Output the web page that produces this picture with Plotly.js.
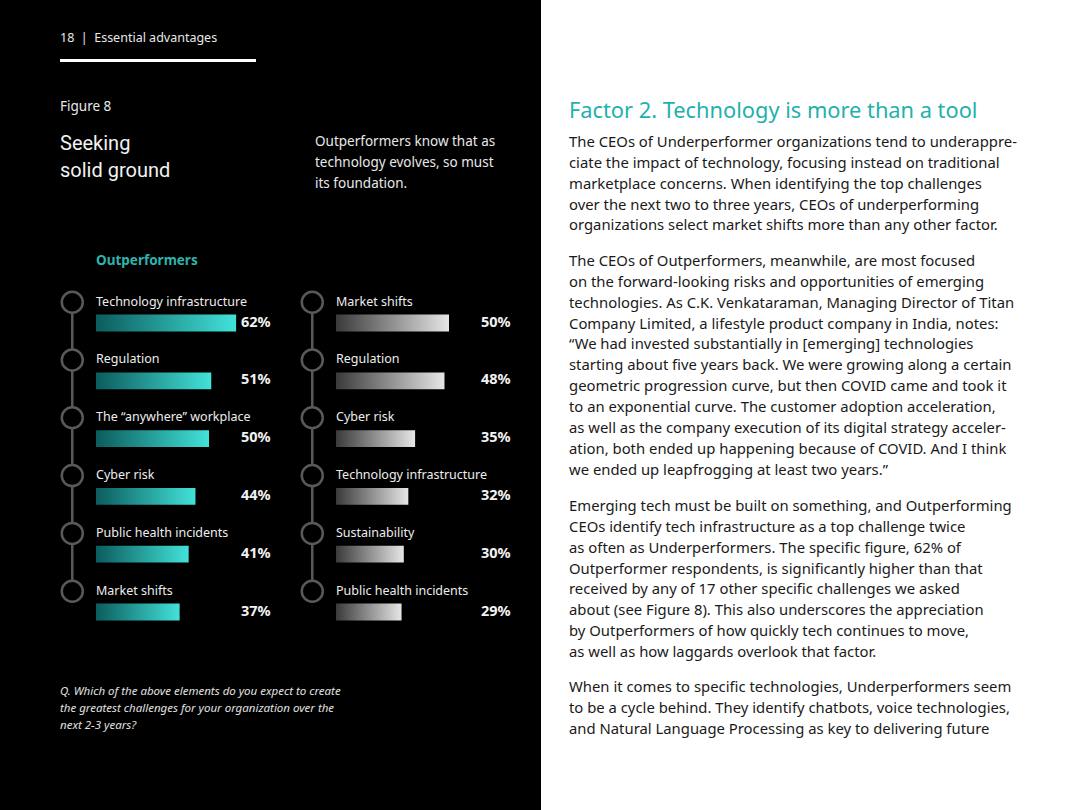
<!DOCTYPE html>
<html>
<head>
<meta charset="utf-8">
<script src="https://cdn.plot.ly/plotly-3.0.1.min.js"></script>
<style>
  html, body { margin: 0; padding: 0; background: #ffffff; }
  #chart { width: 1080px; height: 810px; }
</style>
</head>
<body>
<div id="chart"></div>
<script>
// ---------------- data ----------------
const leftLabels = ["Technology infrastructure", "Regulation", "The \u201Canywhere\u201D workplace", "Cyber risk", "Public health incidents", "Market shifts"];
const leftValues = [62, 51, 50, 44, 41, 37];
const rightLabels = ["Market shifts", "Regulation", "Cyber risk", "Technology infrastructure", "Sustainability", "Public health incidents"];
const rightValues = [50, 48, 35, 32, 30, 29];
const groupTitle = "Outperformers";

const para1 = [
  "The CEOs of Underperformer organizations tend to underappre-",
  "ciate the impact of technology, focusing instead on traditional",
  "marketplace concerns. When identifying the top challenges",
  "over the next two to three years, CEOs of underperforming",
  "organizations select market shifts more than any other factor."
];
const para2 = [
  "The CEOs of Outperformers, meanwhile, are most focused",
  "on the forward-looking risks and opportunities of emerging",
  "technologies. As C.K. Venkataraman, Managing Director of Titan",
  "Company Limited, a lifestyle product company in India, notes:",
  "\u201CWe had invested substantially in [emerging] technologies",
  "starting about five years back. We were growing along a certain",
  "geometric progression curve, but then COVID came and took it",
  "to an exponential curve. The customer adoption acceleration,",
  "as well as the company execution of its digital strategy acceler-",
  "ation, both ended up happening because of COVID. And I think",
  "we ended up leapfrogging at least two years.\u201D"
];
const para3 = [
  "Emerging tech must be built on something, and Outperforming",
  "CEOs identify tech infrastructure as a top challenge twice",
  "as often as Underperformers. The specific figure, 62% of",
  "Outperformer respondents, is significantly higher than that",
  "received by any of 17 other specific challenges we asked",
  "about (see Figure 8). This also underscores the appreciation",
  "by Outperformers of how quickly tech continues to move,",
  "as well as how laggards overlook that factor."
];
const para4 = [
  "When it comes to specific technologies, Underperformers seem",
  "to be a cycle behind. They identify chatbots, voice technologies,",
  "and Natural Language Processing as key to delivering future"
];

// ---------------- helpers ----------------
const W = 1080, H = 810;
const px = v => v / W;
const py = v => 1 - v / H;
const FONT = "'Noto Sans', 'Open Sans', sans-serif";
const FONT_LIGHT = "Roboto, 'Noto Sans', sans-serif";
const idx = leftValues.map((_, i) => i);

// timeline circles (offset above each bar row)
const circleX = -10.5;
const circleOffset = -0.36;

const traces = [
  {
    type: "bar", orientation: "h",
    x: leftValues, y: idx, base: 0, width: 0.29,
    marker: { color: "#2a9e9a", line: { width: 0 } },
    xaxis: "x", yaxis: "y", hoverinfo: "skip"
  },
  {
    type: "bar", orientation: "h",
    x: rightValues, y: idx, base: 0, width: 0.29,
    marker: { color: "#9a9a9a", line: { width: 0 } },
    xaxis: "x2", yaxis: "y2", hoverinfo: "skip"
  },
  {
    type: "scatter", mode: "lines+markers",
    x: idx.map(() => circleX), y: idx.map(i => i + circleOffset),
    line: { color: "#595959", width: 2.5 },
    marker: { size: 21, color: "#000000", line: { color: "#595959", width: 2.5 } },
    xaxis: "x", yaxis: "y", hoverinfo: "skip", cliponaxis: false
  },
  {
    type: "scatter", mode: "lines+markers",
    x: idx.map(() => circleX), y: idx.map(i => i + circleOffset),
    line: { color: "#595959", width: 2.5 },
    marker: { size: 21, color: "#000000", line: { color: "#595959", width: 2.5 } },
    xaxis: "x2", yaxis: "y2", hoverinfo: "skip", cliponaxis: false
  }
];

const annotations = [];
const baseAnn = { showarrow: false, borderpad: 0, borderwidth: 0, align: "left" };
function addText(text, x, y, size, color, opts) {
  annotations.push(Object.assign({}, baseAnn, {
    text: text, x: px(x), y: py(y), xref: "paper", yref: "paper",
    xanchor: "left", yanchor: "middle",
    font: { family: FONT, size: size, color: color }
  }, opts || {}));
}

// item labels + values
function addColumn(labels, values, xa, ya) {
  labels.forEach((lab, i) => {
    annotations.push(Object.assign({}, baseAnn, {
      text: lab, x: 0, y: i - 0.38, xref: xa, yref: ya,
      xanchor: "left", yanchor: "middle",
      font: { family: FONT, size: 12.5, color: "#ededed" }
    }));
    annotations.push(Object.assign({}, baseAnn, {
      text: "<b>" + values[i] + "%</b>", x: 77.4, y: i - 0.04, xref: xa, yref: ya,
      xanchor: "right", yanchor: "middle",
      font: { family: FONT, size: 14.5, color: "#f2f2f2" }
    }));
  });
}
addColumn(leftLabels, leftValues, "x", "y");
addColumn(rightLabels, rightValues, "x2", "y2");

// left panel texts
addText("18  |  Essential advantages", 60, 37, 12.5, "#e8e8e8");
addText("Figure 8", 60, 106, 13.5, "#e8e8e8");
addText("Seeking", 60, 143, 20, "#f2f2f2", { font: { family: FONT_LIGHT, size: 20, color: "#f2f2f2" } });
addText("solid ground", 60, 170, 20, "#f2f2f2", { font: { family: FONT_LIGHT, size: 20, color: "#f2f2f2" } });
addText("Outperformers know that as", 315, 141, 13.5, "#e8e8e8");
addText("technology evolves, so must", 315, 162, 13.5, "#e8e8e8");
addText("its foundation.", 315, 183, 13.5, "#e8e8e8");
addText("<b>" + groupTitle + "</b>", 96, 260, 13.5, "#2fb3ad");
addText("<i>Q. Which of the above elements do you expect to create</i>", 60, 690, 11.5, "#e0e0e0");
addText("<i>the greatest challenges for your organization over the</i>", 60, 707, 11.5, "#e0e0e0");
addText("<i>next 2-3 years?</i>", 60, 724, 11.5, "#e0e0e0");

// right panel texts
addText("Factor 2. Technology is more than a tool", 569, 110, 21.8, "#1fb1ad");
const step = 20.85;
[[para1, 141], [para2, 260], [para3, 505], [para4, 686]].forEach(([lines, y0]) => {
  lines.forEach((ln, k) => addText(ln, 569, y0 + k * step, 14.85, "#1a1a1a"));
});

const hidden = { visible: false, fixedrange: true, showgrid: false, zeroline: false };
// x scale: 2.26 px per percentage point, bars start at 96 px / 336 px
const layout = {
  width: W, height: H,
  margin: { l: 0, r: 0, t: 0, b: 0, pad: 0 },
  paper_bgcolor: "#ffffff", plot_bgcolor: "rgba(0,0,0,0)",
  showlegend: false,
  xaxis: Object.assign({ domain: [px(62.1), px(276.8)], range: [-15, 80], anchor: "y" }, hidden),
  yaxis: Object.assign({ domain: [py(669.8), py(265.2)], range: [6, -1], anchor: "x" }, hidden),
  xaxis2: Object.assign({ domain: [px(302.1), px(516.8)], range: [-15, 80], anchor: "y2" }, hidden),
  yaxis2: Object.assign({ domain: [py(669.8), py(265.2)], range: [6, -1], anchor: "x2" }, hidden),
  shapes: [
    { type: "rect", xref: "paper", yref: "paper", x0: 0, x1: px(541), y0: 0, y1: 1,
      fillcolor: "#000000", line: { width: 0 }, layer: "below" },
    { type: "line", xref: "paper", yref: "paper", x0: px(60), x1: px(256), y0: py(60.5), y1: py(60.5),
      line: { color: "#ffffff", width: 3 }, layer: "above" }
  ],
  annotations: annotations
};

Plotly.newPlot("chart", traces, layout, { staticPlot: true, displayModeBar: false }).then(gd => {
  // apply horizontal gradients to the bar paths drawn by Plotly
  const svgNS = "http://www.w3.org/2000/svg";
  const svg = gd.querySelector("svg.main-svg");
  let defs = svg.querySelector("defs");
  if (!defs) { defs = document.createElementNS(svgNS, "defs"); svg.insertBefore(defs, svg.firstChild); }
  function grad(id, c0, c1) {
    const g = document.createElementNS(svgNS, "linearGradient");
    g.setAttribute("id", id);
    g.setAttribute("x1", "0"); g.setAttribute("y1", "0");
    g.setAttribute("x2", "1"); g.setAttribute("y2", "0");
    [[0, c0], [1, c1]].forEach(([o, c]) => {
      const s = document.createElementNS(svgNS, "stop");
      s.setAttribute("offset", o); s.setAttribute("stop-color", c);
      g.appendChild(s);
    });
    defs.appendChild(g);
  }
  grad("gTeal", "#0b5c5d", "#42e2d9");
  grad("gGray", "#3a3a3a", "#e6e6e6");
  const barTraces = gd.querySelectorAll(".barlayer .trace");
  barTraces.forEach((t, k) => {
    t.querySelectorAll(".point path").forEach(p => {
      p.style.fill = k === 0 ? "url(#gTeal)" : "url(#gGray)";
    });
  });
});
</script>
</body>
</html>
